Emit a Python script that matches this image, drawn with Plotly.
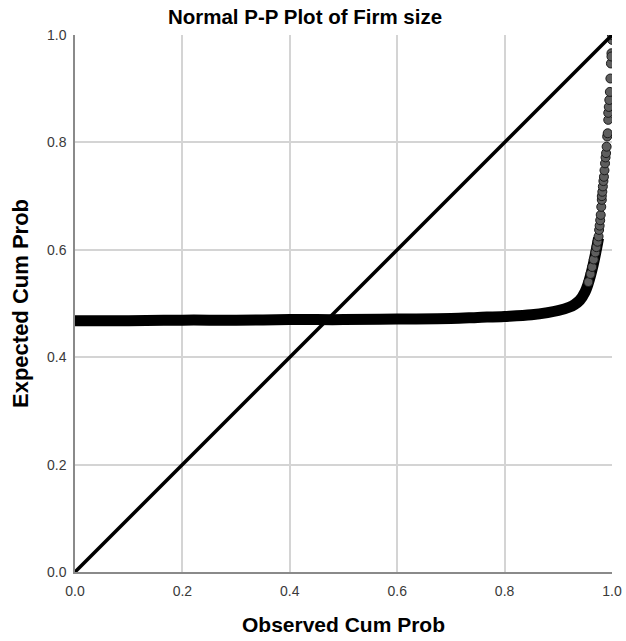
import plotly.graph_objects as go

# Dense part of the P-P plot (observed cum prob vs expected cum prob)
dense_obs = [0.0, 0.05, 0.1, 0.2, 0.3, 0.4, 0.5, 0.6, 0.7, 0.75, 0.8, 0.85, 0.88, 0.9,
             0.92, 0.93, 0.94, 0.95, 0.955, 0.96, 0.965, 0.97, 0.975]
dense_exp = [0.468, 0.468, 0.468, 0.469, 0.469, 0.470, 0.470, 0.471, 0.472, 0.474, 0.476,
             0.479, 0.483, 0.487, 0.493, 0.498, 0.506, 0.522, 0.535, 0.552, 0.572, 0.596, 0.622]

# Sparse upper tail (individual points)
tail_obs = [0.956, 0.960, 0.963, 0.966, 0.969, 0.971, 0.973, 0.975, 0.976, 0.977, 0.978,
            0.979, 0.980, 0.981, 0.981, 0.982, 0.983, 0.984, 0.985, 0.986, 0.987, 0.988,
            0.989, 0.990, 0.991, 0.992, 0.993, 0.993, 0.994, 0.995, 0.996, 0.997, 0.998, 0.999]
tail_exp = [0.540, 0.555, 0.568, 0.582, 0.595, 0.605, 0.615, 0.625, 0.637, 0.645, 0.655,
            0.665, 0.680, 0.693, 0.700, 0.708, 0.718, 0.728, 0.736, 0.748, 0.761, 0.772,
            0.780, 0.792, 0.811, 0.817, 0.842, 0.855, 0.866, 0.879, 0.894, 0.919, 0.947, 0.966]
top_obs = [0.999, 1.0, 1.0]
top_exp = [0.960, 0.991, 1.0]

diag = [0.0, 1.0]
ticks = [0.0, 0.2, 0.4, 0.6, 0.8, 1.0]
tick_labels = ["0.0", "0.2", "0.4", "0.6", "0.8", "1.0"]

FONT = "Liberation Sans, Arial"

fig = go.Figure()
fig.add_trace(go.Scatter(x=dense_obs, y=dense_exp, mode="lines",
                         line=dict(color="black", width=11, shape="spline"),
                         hoverinfo="skip", showlegend=False))
fig.add_trace(go.Scatter(x=tail_obs + top_obs, y=tail_exp + top_exp, mode="markers",
                         marker=dict(size=9, color="#5e5e5e",
                                     line=dict(color="#1a1a1a", width=1)),
                         showlegend=False))
fig.add_trace(go.Scatter(x=diag, y=diag, mode="lines",
                         line=dict(color="black", width=3.5),
                         showlegend=False))

axis_common = dict(range=[0, 1], tickvals=ticks, ticktext=tick_labels,
                   showgrid=True, gridcolor="#d4d4d4", gridwidth=1.5,
                   zeroline=False, showline=True, linecolor="#8a8a8a", linewidth=1.5,
                   tickfont=dict(family=FONT, size=14, color="#3a3a3a"),
                   ticks="", fixedrange=True, automargin=False)

fig.update_layout(
    width=626, height=641,
    margin=dict(l=75, r=14, t=35, b=69),
    paper_bgcolor="white", plot_bgcolor="white",
    title=dict(text="<b>Normal P-P Plot of Firm size</b>", x=305 / 626, xanchor="center",
               y=1 - 17 / 641, yanchor="middle",
               font=dict(family=FONT, size=20.5, color="black")),
    xaxis=dict(**axis_common, ticklabelstandoff=5,
               title=dict(text="<b>Observed Cum Prob</b>", standoff=20,
                          font=dict(family=FONT, size=21, color="black"))),
    yaxis=dict(**axis_common, ticklabelstandoff=4,
               title=dict(text="<b>Expected Cum Prob</b>", standoff=12,
                          font=dict(family=FONT, size=22, color="black"))),
)

fig.write_html("out.html")
